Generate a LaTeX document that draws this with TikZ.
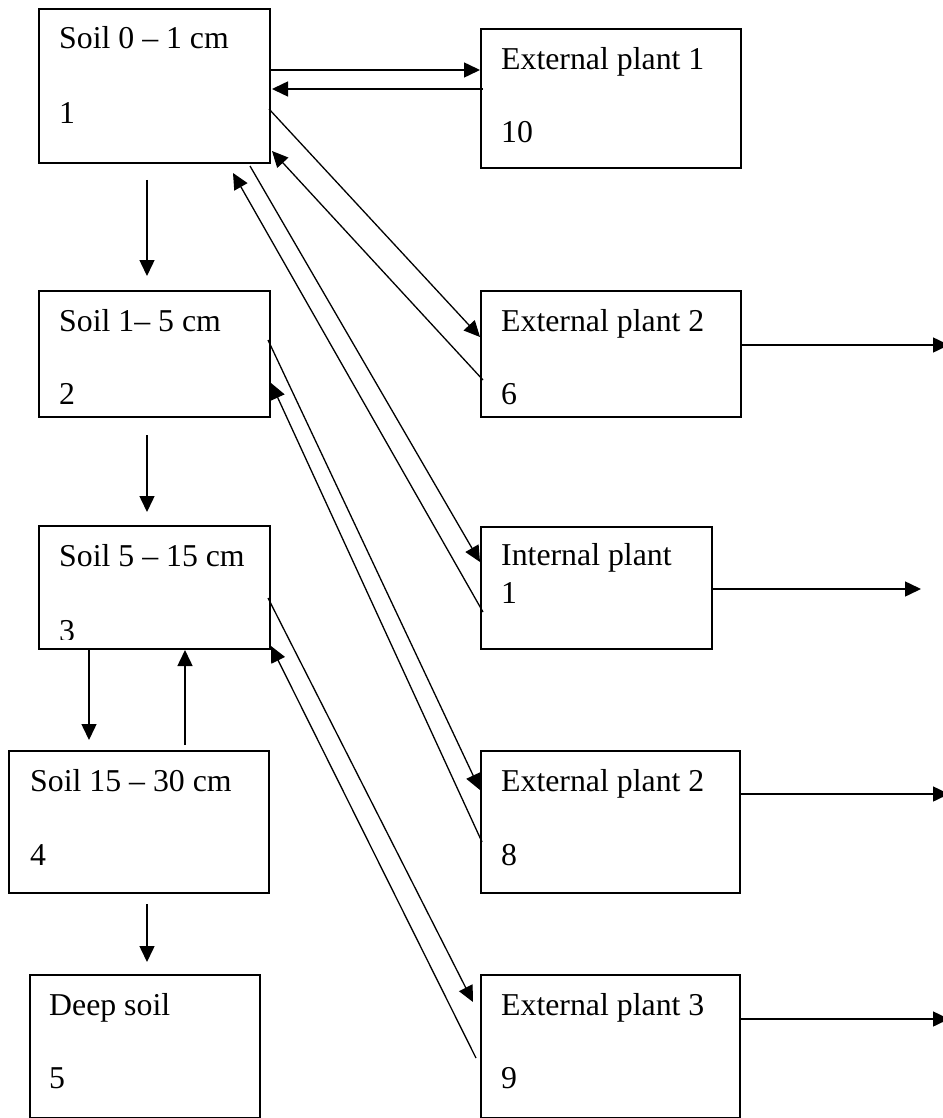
\documentclass[tikz,border=0pt]{standalone}
\usepackage{fontspec}
\setmainfont{Liberation Serif}
\usetikzlibrary{arrows.meta,calc}

\tikzset{
  box/.style={draw, line width=1.7pt, rectangle, inner sep=0pt, anchor=north west},
  txt/.style={anchor=base west, inner sep=0pt, font=\fontsize{31.8}{38}\selectfont},
  flow/.style={line width=1.5pt, -{Triangle[length=16pt,width=15pt]}},
  link/.style={line width=1.3pt, -{Triangle[length=16pt,width=15pt]}}
}

\begin{document}
\begin{tikzpicture}[x=1pt, y=-1pt]
\useasboundingbox (0,0) rectangle (942,1118);

% compartments
\node[box, minimum width=231pt, minimum height=154pt] (b1)  at (38,8)    {};
\node[box, minimum width=260pt, minimum height=139pt] (b10) at (480,28)  {};
\node[box, minimum width=231pt, minimum height=126pt] (b2)  at (38,290)  {};
\node[box, minimum width=260pt, minimum height=126pt] (b6)  at (480,290) {};
\node[box, minimum width=231pt, minimum height=123pt] (b3)  at (38,525)  {};
\node[box, minimum width=231pt, minimum height=122pt] (bi)  at (480,526) {};
\node[box, minimum width=260pt, minimum height=142pt] (b4)  at (8,750)   {};
\node[box, minimum width=259pt, minimum height=142pt] (b8)  at (480,750) {};
\node[box, minimum width=230pt, minimum height=143pt] (b5)  at (29,974)  {};
\node[box, minimum width=259pt, minimum height=143pt] (b9)  at (480,974) {};

% labels
\node[txt] (t1)  at ($(b1.north west)+(21,41)$)  {Soil 0 – 1 cm};
\node[txt] (n1)  at ($(b1.north west)+(21,116)$) {1};
\node[txt] (t10) at ($(b10.north west)+(21,42)$) {External plant 1};
\node[txt] (n10) at ($(b10.north west)+(21,115)$) {10};
\node[txt] (t2)  at ($(b2.north west)+(21,41)$)  {Soil 1– 5 cm};
\node[txt] (n2)  at ($(b2.north west)+(21,114)$) {2};
\node[txt] (t6)  at ($(b6.north west)+(21,41)$)  {External plant 2};
\node[txt] (n6)  at ($(b6.north west)+(21,114)$) {6};
\node[txt] (t3)  at ($(b3.north west)+(21,41)$)  {Soil 5 – 15 cm};
\begin{scope}
  \clip (b3.north west) rectangle ($(b3.south east)+(0,-10)$);
  \node[txt] (n3) at ($(b3.north west)+(21,116)$) {3};
\end{scope}
\node[txt] (ti)  at ($(bi.north west)+(21,39)$)  {Internal plant};
\node[txt] (ni)  at ($(bi.north west)+(21,77)$)  {1};
\node[txt] (t4)  at ($(b4.north west)+(22,41)$)  {Soil 15 – 30 cm};
\node[txt] (n4)  at ($(b4.north west)+(22,115)$) {4};
\node[txt] (t8)  at ($(b8.north west)+(21,41)$)  {External plant 2};
\node[txt] (n8)  at ($(b8.north west)+(21,115)$) {8};
\node[txt] (t5)  at ($(b5.north west)+(20,41)$)  {Deep soil};
\node[txt] (n5)  at ($(b5.north west)+(20,114)$) {5};
\node[txt] (t9)  at ($(b9.north west)+(21,41)$)  {External plant 3};
\node[txt] (n9)  at ($(b9.north west)+(21,114)$) {9};

% outflow ends
\coordinate (o6) at (949,345);
\coordinate (oi) at (921,589);
\coordinate (o8) at (949,794);
\coordinate (o9) at (949,1019);

% soil column transfers
\draw[flow] ($(b1.north west)+(109,172)$) -- ($(b2.north west)+(109,-14)$);
\draw[flow] ($(b2.north west)+(109,145)$) -- ($(b3.north west)+(109,-13)$);
\draw[flow] ($(b3.north west)+(51,123)$)  -- ($(b4.north west)+(81,-10)$);
\draw[flow] ($(b4.north west)+(177,-5)$)  -- ($(b3.north west)+(147,125)$);
\draw[flow] ($(b4.north west)+(139,154)$) -- ($(b5.north west)+(118,-12)$);

% soil <-> plant exchanges
\draw[flow] ($(b1.north west)+(231,62)$)  -- ($(b10.north west)+(0,42)$);
\draw[flow] ($(b10.north west)+(3,61)$)   -- ($(b1.north west)+(234,81)$);
\draw[link] ($(b1.north west)+(231,101)$) -- ($(b6.north west)+(0,47)$);
\draw[link] ($(b6.north west)+(3,90)$)    -- ($(b1.north west)+(234,143)$);
\draw[link] ($(b1.north west)+(212,158)$) -- ($(bi.north west)+(0,36)$);
\draw[link] ($(bi.north west)+(3,86)$)    -- ($(b1.north west)+(195,165)$);
\draw[link] ($(b2.north west)+(230,50)$)  -- ($(b8.north west)+(0,40)$);
\draw[link] ($(b8.north west)+(2,92)$)    -- ($(b2.north west)+(233,93)$);
\draw[link] ($(b3.north west)+(230,73)$)  -- ($(b9.north west)+(-7,28)$);
\draw[link] ($(b9.north west)+(-4,84)$)   -- ($(b3.north west)+(233,121)$);

% losses out of the plants
\draw[flow] ($(b6.north west)+(260,55)$) -- (o6);
\draw[flow] ($(bi.north west)+(231,63)$) -- (oi);
\draw[flow] ($(b8.north west)+(259,44)$) -- (o8);
\draw[flow] ($(b9.north west)+(259,45)$) -- (o9);
\end{tikzpicture}
\end{document}
